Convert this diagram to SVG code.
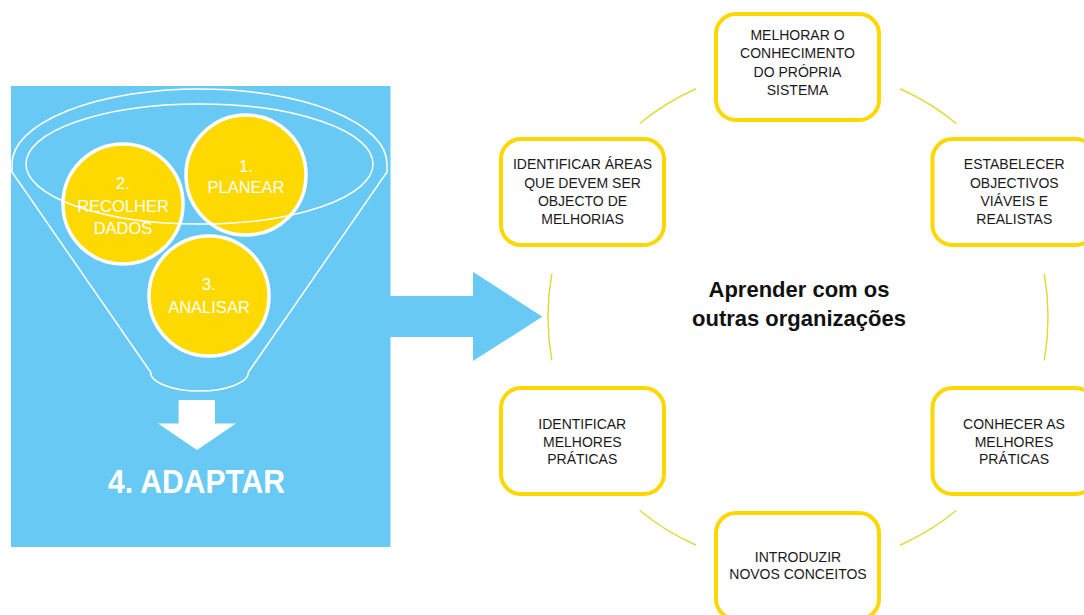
<svg xmlns="http://www.w3.org/2000/svg" width="1084" height="615" viewBox="0 0 1084 615">
  <style>
    .panel { fill: #69C9F5; }
    .ball { fill: #FDD900; stroke: #FFFFFF; stroke-width: 3.5; }
    .ballText { font-family: "Liberation Sans", Arial, sans-serif; font-size: 16.5px; fill: #FFFFFF; text-anchor: middle; }
    .funnel { fill: none; stroke: #FFFFFF; stroke-width: 1.5; }
    .box { fill: #FFFFFF; stroke: #FFD700; stroke-width: 4; }
    .boxText { font-family: "Liberation Sans", Arial, sans-serif; font-size: 14px; fill: #1A1A1A; text-anchor: middle; }
    .arc { fill: none; stroke: #DEDB3E; stroke-width: 1.5; }
    .title { font-family: "Liberation Sans", Arial, sans-serif; font-size: 22px; font-weight: bold; fill: #111111; text-anchor: middle; }
  </style>
  <rect width="1084" height="615" fill="#FFFFFF"/>

  <g id="funnel-panel">
    <rect class="panel" x="11" y="86" width="379.5" height="461"/>
    <g id="step2">
      <circle class="ball" cx="123" cy="204" r="60"/>
    </g>
    <g id="step1">
      <circle class="ball" cx="246" cy="175" r="60"/>
    </g>
    <g id="step3">
      <circle class="ball" cx="209" cy="296" r="60"/>
    </g>
    <g id="funnel-outline">
      <path class="funnel" d="M12,164 A187.5,75 0 0 1 387,164 L387,172 L248.5,372 A49,19 0 0 1 150.5,372 L12,172 Z"/>
      <ellipse class="funnel" cx="199.5" cy="164" rx="173.5" ry="60"/>
    </g>
    <text class="ballText" x="246" y="172">1.</text>
    <text class="ballText" x="246" y="193">PLANEAR</text>
    <text class="ballText" x="123" y="189">2.</text>
    <text class="ballText" x="123" y="212">RECOLHER</text>
    <text class="ballText" x="123" y="234">DADOS</text>
    <text class="ballText" x="209" y="290">3.</text>
    <text class="ballText" x="209" y="313">ANALISAR</text>
    <g id="down-arrow">
      <polygon fill="#FFFFFF" points="178.6,400 215,400 215,423.6 236,423.6 197,450 158,423.6 178.6,423.6"/>
    </g>
    <g id="step4">
      <text x="196.5" y="493" font-family="Liberation Sans, Arial, sans-serif" font-size="33" font-weight="bold" fill="#FFFFFF" text-anchor="middle" textLength="177" lengthAdjust="spacingAndGlyphs">4. ADAPTAR</text>
    </g>
  </g>

  <g id="big-arrow">
    <polygon class="panel" points="390,296 473,296 473,271.7 542.3,316.7 473,361 473,337 390,337"/>
  </g>

  <g id="connectors">
    <path class="arc" d="M900,88.8 A250,250 0 0 1 956.3,123.5"/>
    <path class="arc" d="M1044.2,273.6 A250,250 0 0 1 1044.2,360.4"/>
    <path class="arc" d="M956.3,510.5 A250,250 0 0 1 900,545.2"/>
    <path class="arc" d="M696,545.2 A250,250 0 0 1 639.7,510.5"/>
    <path class="arc" d="M551.8,360.4 A250,250 0 0 1 551.8,273.6"/>
    <path class="arc" d="M639.7,123.5 A250,250 0 0 1 696,88.8"/>
  </g>

  <g id="center-title">
    <text class="title" x="799" y="297">Aprender com os</text>
    <text class="title" x="799" y="326">outras organizações</text>
  </g>

  <g id="node-top">
    <rect class="box" x="716" y="14" width="163" height="106" rx="20"/>
    <text class="boxText" x="797.5" y="39.5">MELHORAR O</text>
    <text class="boxText" x="797.5" y="58">CONHECIMENTO</text>
    <text class="boxText" x="797.5" y="76.5">DO PRÓPRIA</text>
    <text class="boxText" x="797.5" y="95">SISTEMA</text>
  </g>

  <g id="node-top-right">
    <rect class="box" x="932.5" y="139" width="163" height="106" rx="20"/>
    <text class="boxText" x="1014.3" y="169.3">ESTABELECER</text>
    <text class="boxText" x="1014.3" y="187.5">OBJECTIVOS</text>
    <text class="boxText" x="1014.3" y="206">VIÁVEIS E</text>
    <text class="boxText" x="1014.3" y="224">REALISTAS</text>
  </g>

  <g id="node-bottom-right">
    <rect class="box" x="932.5" y="388" width="163" height="106" rx="20"/>
    <text class="boxText" x="1014" y="429">CONHECER AS</text>
    <text class="boxText" x="1014" y="446.7">MELHORES</text>
    <text class="boxText" x="1014" y="464">PRÁTICAS</text>
  </g>

  <g id="node-bottom">
    <rect class="box" x="716" y="513" width="163" height="106" rx="20"/>
    <text class="boxText" x="798" y="561.7">INTRODUZIR</text>
    <text class="boxText" x="798" y="579.3">NOVOS CONCEITOS</text>
  </g>

  <g id="node-bottom-left">
    <rect class="box" x="501" y="388" width="163" height="106" rx="20"/>
    <text class="boxText" x="582.3" y="429">IDENTIFICAR</text>
    <text class="boxText" x="582.3" y="446.7">MELHORES</text>
    <text class="boxText" x="582.3" y="464">PRÁTICAS</text>
  </g>

  <g id="node-top-left">
    <rect class="box" x="501" y="139" width="163" height="106" rx="20"/>
    <text class="boxText" x="582.5" y="169.3">IDENTIFICAR ÁREAS</text>
    <text class="boxText" x="582.5" y="187.5">QUE DEVEM SER</text>
    <text class="boxText" x="582.5" y="206">OBJECTO DE</text>
    <text class="boxText" x="582.5" y="224">MELHORIAS</text>
  </g>
</svg>
